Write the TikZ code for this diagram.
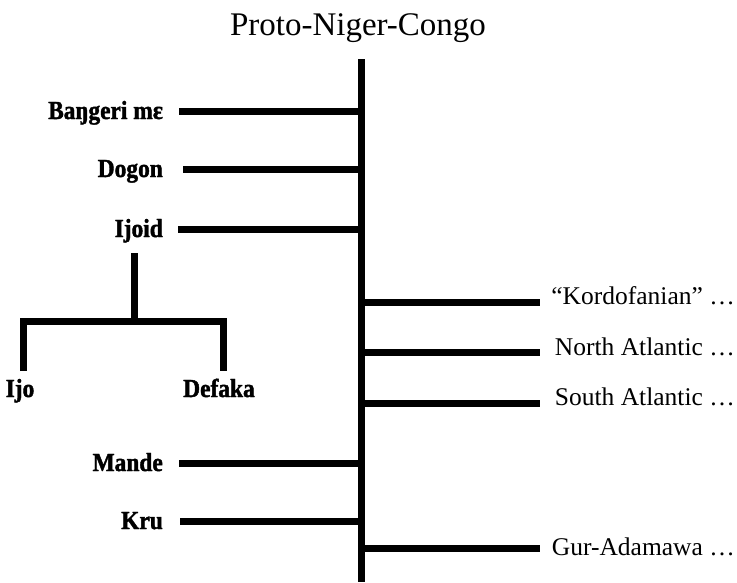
\documentclass[tikz,border=0pt]{standalone}
\usepackage{fontspec}
\setmainfont{Liberation Serif}
\newfontfamily\heavylabelfont[FakeStretch=0.9,FakeBold=1.6]{Liberation Serif Bold}
\definecolor{color_tree_line}{HTML}{000000}
\definecolor{color_tree_text}{HTML}{000000}
\def\treelinewidth{7pt}
\def\trunkx{361}
\def\leftlabelx{163}
\def\rightlabelx{735}
\def\rightlinex{540}
\def\titlesize{\fontsize{33}{39}\selectfont}
\def\leftlabelsize{\fontsize{26}{30}\selectfont\heavylabelfont}
\def\rightlabelsize{\fontsize{25.5}{30}\selectfont}
% left branch: name, y of the line, x where the line starts, label
\def\leftbranch(#1,#2,#3,#4){
    \node[left_label] (#1) at (\leftlabelx,#2+8) {#4};
    \coordinate (#1_start) at (#3,#2);
    \coordinate (#1_join) at (\trunkx,#2);
    \draw[tree_line] (#1_start) -- (#1_join);
}
% right branch: name, y of the line, baseline of the label, label
\def\rightbranch(#1,#2,#3,#4){
    \coordinate (#1_join) at (\trunkx,#2);
    \coordinate (#1_end) at (\rightlinex,#2);
    \draw[tree_line] (#1_join) -- (#1_end);
    \node[right_label] (#1) at (\rightlabelx,#3) {#4};
}
\tikzset{
    tree_line/.style={color_tree_line,line width=\treelinewidth},
    left_label/.style={color_tree_text,anchor=base east,inner sep=0pt,font=\leftlabelsize},
    right_label/.style={color_tree_text,anchor=base east,inner sep=0pt,font=\rightlabelsize},
}

\begin{document}
\begin{tikzpicture}[x=1pt,y=-1pt]
        \useasboundingbox (0,0) rectangle (737,582);
        \node[color_tree_text,font=\titlesize] (title) at (358,28) {Proto-Niger-Congo};
        % trunk
        \coordinate (trunk_top) at (\trunkx,59);
        \coordinate (trunk_bottom) at (\trunkx,582);
        \draw[tree_line] (trunk_top) -- (trunk_bottom);
        % left branches
        \leftbranch(bangeri,111,179,Baŋgeri mɛ)
        \leftbranch(dogon,169,183,Dogon)
        \leftbranch(ijoid,229,178,Ijoid)
        \leftbranch(mande,463,179,Mande)
        \leftbranch(kru,521,180,Kru)
        % ijoid subtree
        \coordinate (ijoid_stem) at (134,253);
        \coordinate (ijoid_fork) at (134,321);
        \coordinate (ijo_stem) at (23,371);
        \coordinate (defaka_stem) at (223,371);
        \draw[tree_line] (ijoid_stem) -- (ijoid_fork);
        \draw[tree_line] (ijo_stem) |- (ijoid_fork) -| (defaka_stem);
        \node[left_label,anchor=base] (ijo) at (20,397) {Ijo};
        \node[left_label,anchor=base] (defaka) at (219,397) {Defaka};
        % right branches
        \rightbranch(kordofanian,302,304,“Kordofanian” …)
        \rightbranch(northatlantic,352,355,North Atlantic …)
        \rightbranch(southatlantic,403,405,South Atlantic …)
        \rightbranch(guradamawa,548,555,Gur-Adamawa …)
    \end{tikzpicture}
\end{document}
